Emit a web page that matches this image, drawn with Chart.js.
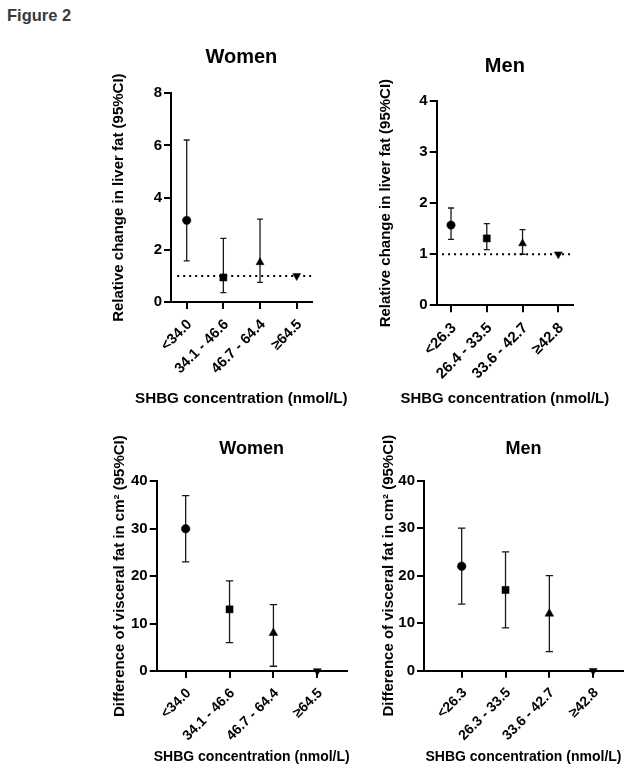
<!DOCTYPE html>
<html>
<head>
<meta charset="utf-8">
<script src="https://cdn.jsdelivr.net/npm/chart.js@4"></script>
<style>
  html, body { margin: 0; padding: 0; background: #fff; }
  body { width: 642px; height: 776px; position: relative; overflow: hidden; }
  canvas { position: absolute; left: 0; top: 0; }
  #fig { position: absolute; left: 7px; top: 7px; font: bold 16.5px 'Liberation Sans', Arial, sans-serif; line-height: 1; color: #3a3a3a; }
</style>
</head>
<body>
<div id="fig">Figure 2</div>
<canvas id="c1" width="642" height="776"></canvas>
<canvas id="c2" width="642" height="776"></canvas>
<canvas id="c3" width="642" height="776"></canvas>
<canvas id="c4" width="642" height="776"></canvas>
<script>
// ---------- data ----------
const catsWomen = ['<34.0', '34.1 - 46.6', '46.7 - 64.4', '\u226564.5'];
const catsMenLiver = ['<26.3', '26.4 - 33.5', '33.6 - 42.7', '\u226542.8'];
const catsMenVisc = ['<26.3', '26.3 - 33.5', '33.6 - 42.7', '\u226542.8'];

const womenLiver = [3.13, 0.94, 1.52, 1.0];
const womenLiverLow = [1.58, 0.36, 0.75, null];
const womenLiverHigh = [6.21, 2.44, 3.18, null];

const menLiver = [1.57, 1.31, 1.21, 1.0];
const menLiverLow = [1.29, 1.09, 1.0, null];
const menLiverHigh = [1.905, 1.60, 1.48, null];

const womenVisc = [30, 13, 8, 0];
const womenViscLow = [23, 6, 1, null];
const womenViscHigh = [37, 19, 14, null];

const menVisc = [22, 17, 12, 0];
const menViscLow = [14, 9, 4, null];
const menViscHigh = [30, 25, 20, null];

const referenceValue = 1;

const yTicksLiverWomen = [0, 2, 4, 6, 8];
const yTicksLiverMen = [0, 1, 2, 3, 4];
const yTicksVisc = [0, 10, 20, 30, 40];

const xAxisTitle = 'SHBG concentration (nmol/L)';

// ---------- styles ----------
const FONT = "'Liberation Sans', Arial, sans-serif";
Chart.defaults.font.family = FONT;
Chart.defaults.font.weight = 'bold';
Chart.defaults.color = '#000';

const markerStyles = ['circle', 'rect', 'triangle', 'triangle'];
const markerRotation = [0, 0, 0, 180];

const errorBarPlugin = {
  id: 'errorBars',
  beforeDatasetsDraw(chart, args, opts) {
    const ctx = chart.ctx;
    const xs = chart.scales.x, ys = chart.scales.y;
    chart.data.datasets.forEach(ds => {
      if (!ds.errLow) return;
      ds.data.forEach((p, i) => {
        const lo = ds.errLow[i], hi = ds.errHigh[i];
        if (lo == null || hi == null) return;
        const px = xs.getPixelForValue(p.x);
        const pl = ys.getPixelForValue(lo);
        const ph = ys.getPixelForValue(hi);
        const cw = opts.cap || 3;
        ctx.save();
        ctx.strokeStyle = '#1a1a1a';
        ctx.lineWidth = 1.3;
        ctx.beginPath();
        ctx.moveTo(px, pl); ctx.lineTo(px, ph);
        ctx.moveTo(px - cw, pl); ctx.lineTo(px + cw, pl);
        ctx.moveTo(px - cw, ph); ctx.lineTo(px + cw, ph);
        ctx.stroke();
        ctx.restore();
      });
    });
  }
};

const xTitlePlugin = {
  id: 'xTitle',
  afterDraw(chart, args, opts) {
    const ctx = chart.ctx;
    const ca = chart.chartArea;
    ctx.save();
    ctx.font = 'bold ' + opts.size + 'px ' + FONT;
    ctx.fillStyle = '#000';
    ctx.textAlign = 'center';
    ctx.textBaseline = 'middle';
    ctx.fillText(opts.text, (ca.left + ca.right) / 2, opts.y);
    ctx.restore();
  }
};

function makeChart(id, p) {
  const points = p.values.map((v, i) => ({ x: i, y: v }));
  const datasets = [{
    type: 'scatter',
    data: points,
    errLow: p.low,
    errHigh: p.high,
    pointStyle: markerStyles,
    pointRotation: markerRotation,
    pointRadius: p.radius,
    pointBackgroundColor: '#000',
    pointBorderColor: '#000',
    pointBorderWidth: 0.5,
    clip: false,
    order: 1
  }];
  if (p.refLine) {
    datasets.push({
      type: 'line',
      data: [{ x: p.refLine[0], y: referenceValue }, { x: p.refLine[1], y: referenceValue }],
      borderColor: '#000',
      borderWidth: 2,
      borderDash: [2, 4],
      pointRadius: 0,
      order: 2
    });
  }
  return new Chart(document.getElementById(id), {
    type: 'scatter',
    data: { datasets },
    plugins: [errorBarPlugin, xTitlePlugin],
    options: {
      responsive: false,
      animation: false,
      devicePixelRatio: 1,
      layout: { padding: p.pad },
      plugins: {
        legend: { display: false },
        tooltip: { enabled: false },
        title: {
          display: true,
          text: p.title,
          fullSize: false,
          font: { size: p.titleSize, weight: 'bold' },
          color: '#000',
          padding: { top: 0, bottom: p.titleGap }
        },
        errorBars: { cap: p.cap },
        xTitle: { text: xAxisTitle, size: p.xTitleSize, y: p.xTitleY }
      },
      scales: {
        x: {
          type: 'linear',
          min: p.xmin, max: p.xmax,
          afterBuildTicks: s => { s.ticks = p.cats.map((c, i) => ({ value: i })); },
          afterFit: s => { s.height = p.hx; },
          ticks: {
            autoSkip: false,
            minRotation: 45, maxRotation: 45,
            padding: 7,
            labelOffset: 3,
            font: { size: p.xTickSize, weight: 'bold' },
            color: '#000',
            callback: v => p.cats[v]
          },
          grid: { drawOnChartArea: false, drawTicks: true, tickLength: 7, color: '#000', lineWidth: 2 },
          border: { display: true, color: '#000', width: 2 },
          title: { display: false }
        },
        y: {
          type: 'linear',
          min: p.yTicks[0], max: p.yTicks[p.yTicks.length - 1],
          afterBuildTicks: s => { s.ticks = p.yTicks.map(v => ({ value: v })); },
          afterFit: s => { s.width = p.wy; },
          ticks: { padding: 2, font: { size: p.yTickSize, weight: 'bold' }, color: '#000' },
          grid: { drawOnChartArea: false, drawTicks: true, tickLength: 7, color: '#000', lineWidth: 2 },
          border: { display: true, color: '#000', width: 2 },
          title: { display: true, text: p.yTitle, font: { size: 15, weight: 'bold' }, color: '#000', padding: 0 }
        }
      }
    }
  });
}

makeChart('c1', {
  title: 'Women', titleSize: 20, titleGap: 23.8,
  cats: catsWomen, values: womenLiver, low: womenLiverLow, high: womenLiverHigh,
  yTicks: yTicksLiverWomen, yTitle: 'Relative change in liver fat (95%CI)',
  xmin: -0.428, xmax: 3.409, refLine: [-0.26, 3.409],
  pad: { left: 110, top: 45.5, right: 330.3, bottom: 368 }, wy: 61, hx: 106,
  radius: [4.2, 5.0, 4.6, 4.6], cap: 3,
  xTickSize: 14.5, yTickSize: 15, xTitleSize: 15.2, xTitleY: 399
});

makeChart('c2', {
  title: 'Men', titleSize: 20, titleGap: 22.5,
  cats: catsMenLiver, values: menLiver, low: menLiverLow, high: menLiverHigh,
  yTicks: yTicksLiverMen, yTitle: 'Relative change in liver fat (95%CI)',
  xmin: -0.40, xmax: 3.41, refLine: [-0.25, 3.41],
  pad: { left: 377, top: 54.5, right: 69, bottom: 368 }, wy: 59.7, hx: 102.7,
  radius: [4.2, 5.0, 4.6, 4.6], cap: 3,
  xTickSize: 15, yTickSize: 15, xTitleSize: 14.9, xTitleY: 399
});

makeChart('c3', {
  title: 'Women', titleSize: 18, titleGap: 21.5,
  cats: catsWomen, values: womenVisc, low: womenViscLow, high: womenViscHigh,
  yTicks: yTicksVisc, yTitle: 'Difference of visceral fat in cm\u00b2 (95%CI)',
  xmin: -0.66, xmax: 3.67,
  pad: { left: 111, top: 438.2, right: 295.3, bottom: 10.6 }, wy: 45.7, hx: 94.4,
  radius: [4.3, 5.0, 5.0, 4.6], cap: 3.7,
  xTickSize: 14, yTickSize: 15, xTitleSize: 14, xTitleY: 757
});

makeChart('c4', {
  title: 'Men', titleSize: 18, titleGap: 20.9,
  cats: catsMenVisc, values: menVisc, low: menViscLow, high: menViscHigh,
  yTicks: yTicksVisc, yTitle: 'Difference of visceral fat in cm\u00b2 (95%CI)',
  xmin: -0.86, xmax: 3.68,
  pad: { left: 380, top: 438.2, right: 19, bottom: 10.9 }, wy: 44, hx: 94.4,
  radius: [4.3, 5.0, 5.0, 4.6], cap: 3.7,
  xTickSize: 14, yTickSize: 15, xTitleSize: 14, xTitleY: 756.7
});
</script>
</body>
</html>
